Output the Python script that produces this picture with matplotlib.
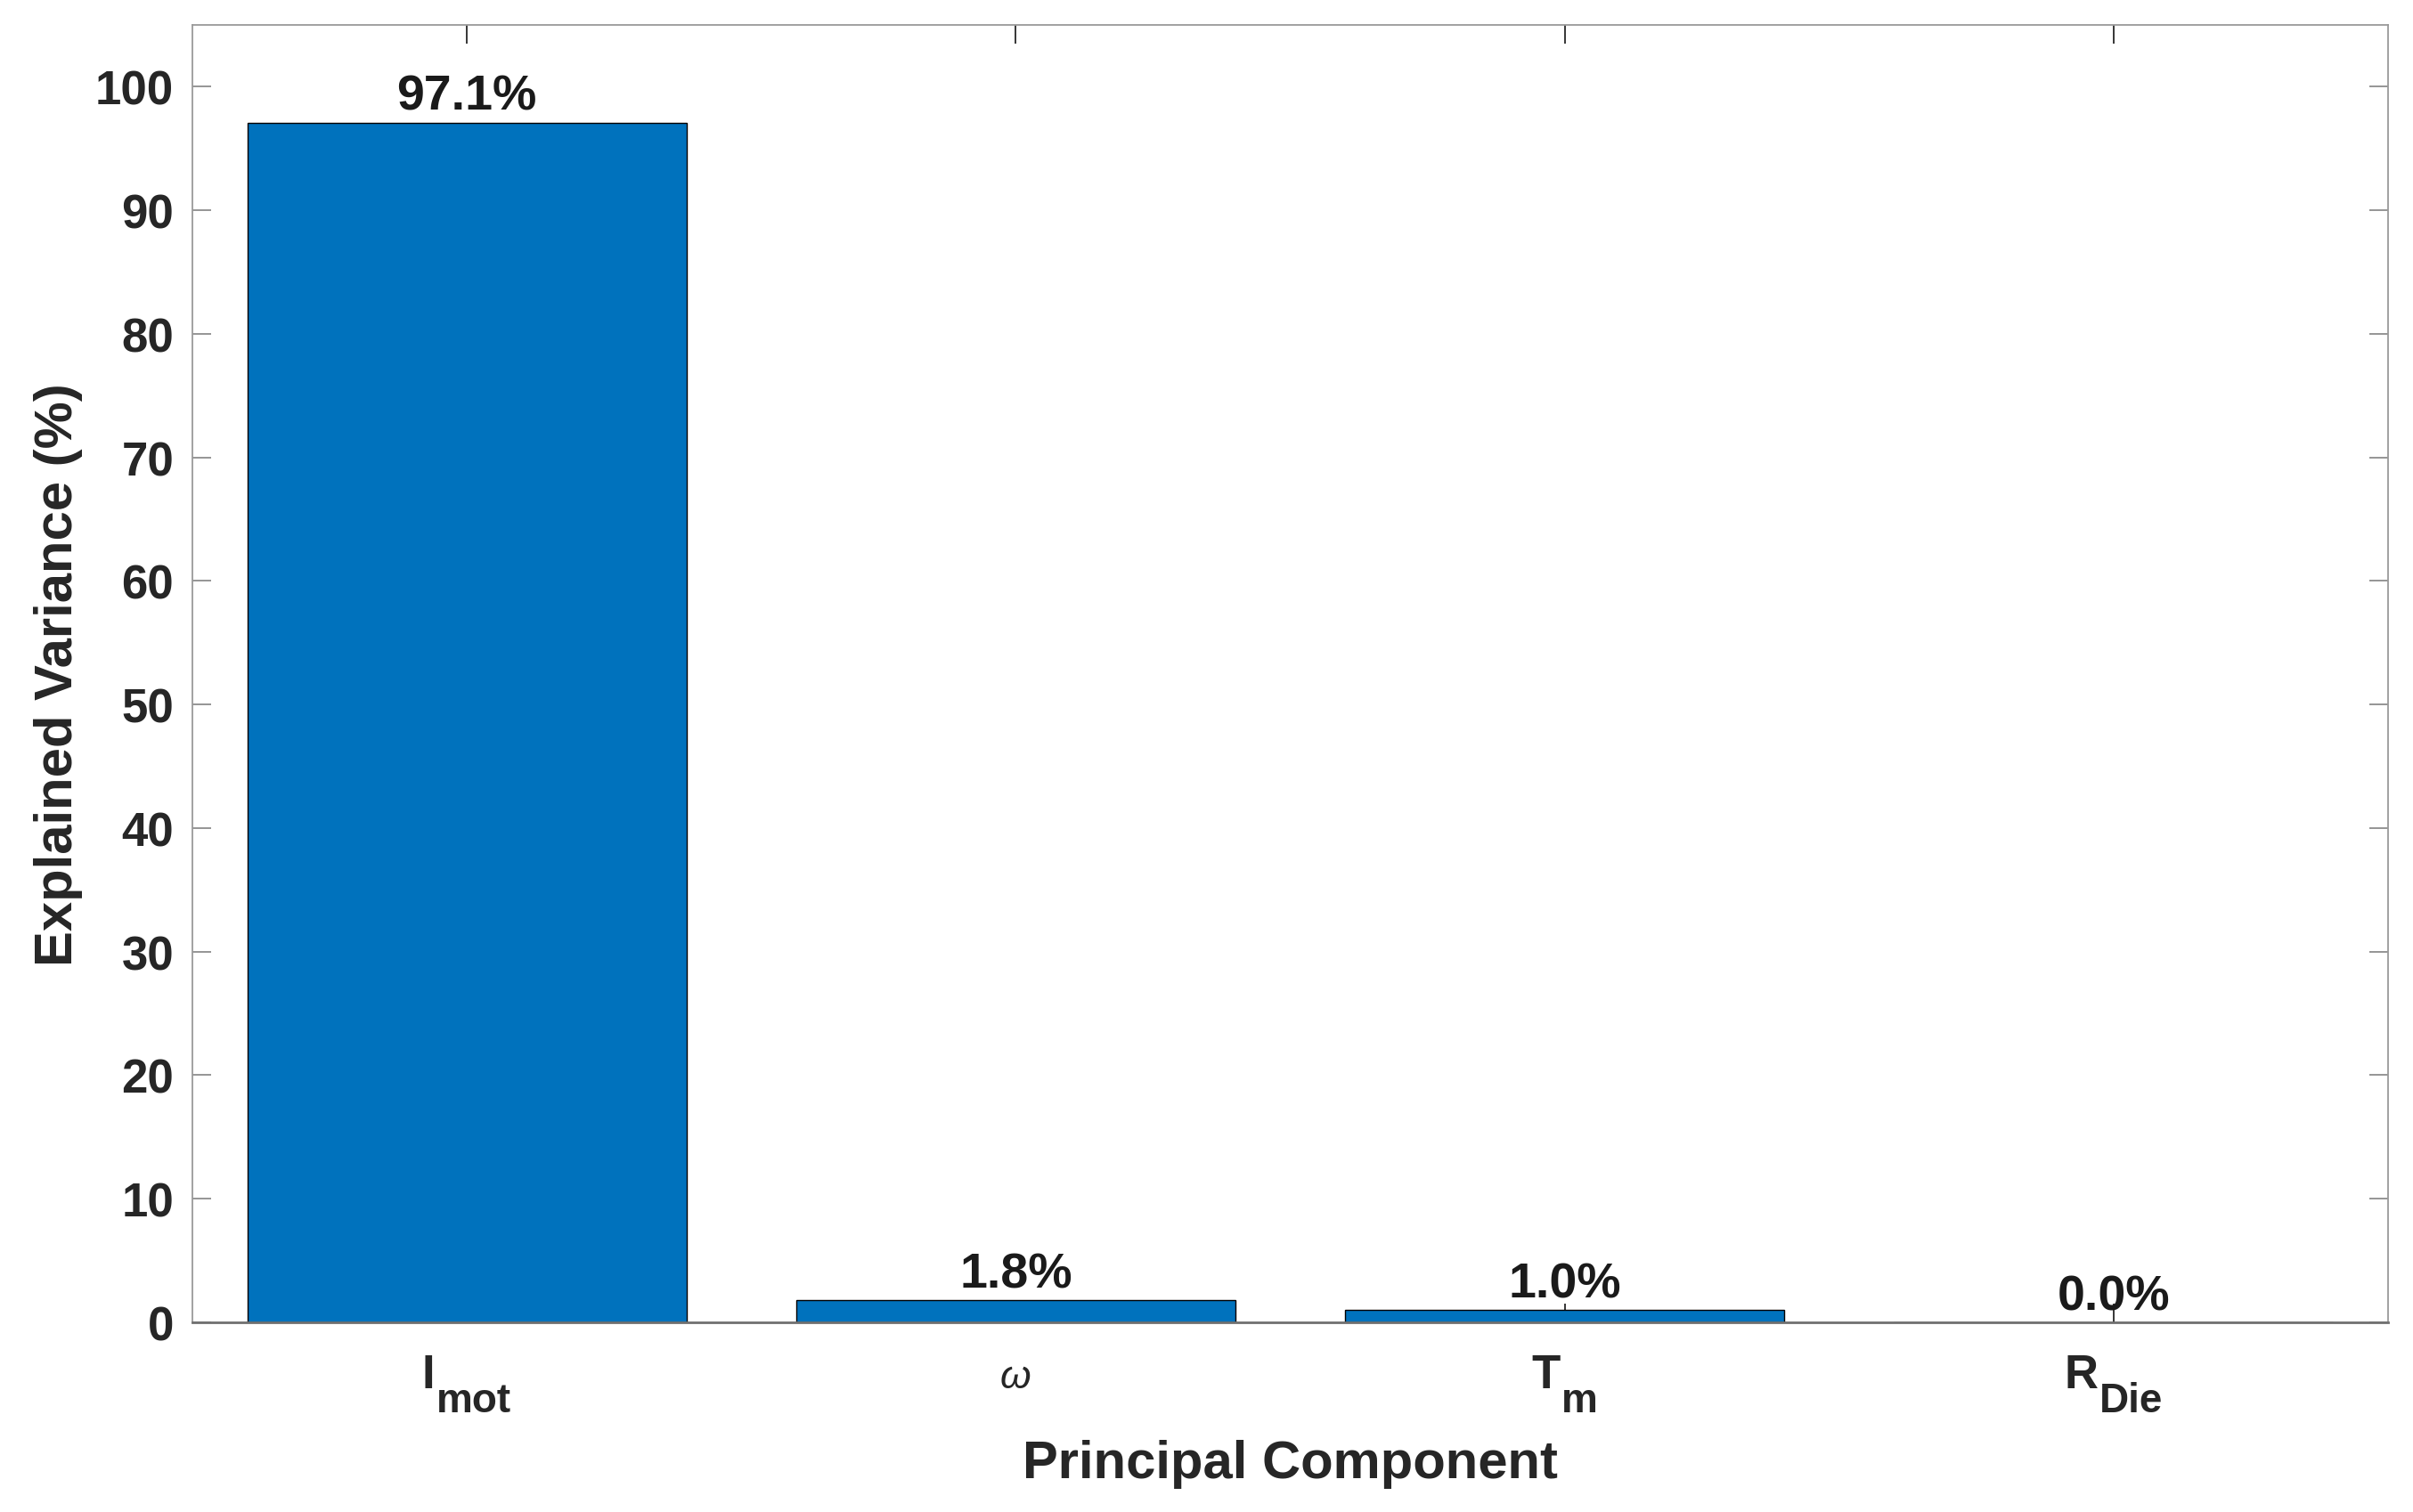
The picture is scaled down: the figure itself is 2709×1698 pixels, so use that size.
import matplotlib
matplotlib.use("Agg")
import matplotlib.pyplot as plt

# explained variance per principal component (%)
tick_main = ["I", "\u03c9", "T", "R"]
tick_sub = ["mot", "", "m", "Die"]
explained = [97.1, 1.8, 1.0, 0.0]
y_ticks = [0, 10, 20, 30, 40, 50, 60, 70, 80, 90, 100]

plt.rcParams["font.family"] = ["Liberation Sans", "DejaVu Sans"]
plt.rcParams["font.weight"] = "bold"

DPI = 100
fig = plt.figure(figsize=(27.09, 16.99), dpi=DPI)
ax = fig.add_axes([0.0797, 0.1254, 0.91, 0.8576])

x = list(range(1, len(explained) + 1))
bars = ax.bar(x, explained, width=0.8, color="#0072BD", edgecolor="black", linewidth=1.0, zorder=2)
ax.bar_label(bars, labels=[f"{v:.1f}%" for v in explained], padding=2,
             fontsize=40, fontweight="bold", color="#1a1a1a")

ax.set_xlim(0.5, 4.5)
ax.set_ylim(0, 105)
ax.set_yticks(y_ticks)
ax.set_xticks(x)

ax.tick_params(axis="both", direction="in", length=15, width=1.3,
               labelsize=38, colors="#262626", top=True, right=True)
ax.tick_params(axis="y", pad=15, colors="#8c8c8c", labelcolor="#262626")
ax.tick_params(axis="x", labelbottom=False)
for lab in ax.get_yticklabels():
    lab.set_fontweight("bold")
for side in ["left", "right", "top"]:
    ax.spines[side].set_color("#9a9a9a")
    ax.spines[side].set_linewidth(1.3)
ax.spines["bottom"].set_color("#707070")
ax.spines["bottom"].set_linewidth(2.0)

# x tick labels with MATLAB-like deep subscripts
renderer = fig.canvas.get_renderer()
trans = ax.get_xaxis_transform()
px2pt = 72.0 / DPI
for xi, main, sub in zip(x, tick_main, tick_sub):
    greek = sub == ""
    t1 = ax.annotate(main, xy=(xi, 0), xycoords=trans, xytext=(0, -52.5),
                     textcoords="offset points", ha="left", va="baseline",
                     fontsize=32 if greek else 38,
                     fontweight="normal" if greek else "bold",
                     fontstyle="italic" if greek else "normal",
                     color="#262626", annotation_clip=False)
    w1 = t1.get_window_extent(renderer).width * px2pt
    if greek:
        t1.xyann = (-w1 / 2, -52.5)
        continue
    t2 = ax.annotate(sub, xy=(xi, 0), xycoords=trans, xytext=(0, -72),
                     textcoords="offset points", ha="left", va="baseline",
                     fontsize=33, fontweight="bold", color="#262626",
                     annotation_clip=False)
    w2 = t2.get_window_extent(renderer).width * px2pt
    gap = 1.0
    total = w1 + gap + w2
    t1.xyann = (-total / 2, -52.5)
    t2.xyann = (-total / 2 + w1 + gap, -72)

ax.set_xlabel("Principal Component", fontsize=43, fontweight="bold", color="#262626")
ax.xaxis.set_label_coords(0.5, -0.0899)
ax.set_ylabel("Explained Variance (%)", fontsize=43, fontweight="bold", color="#262626", labelpad=10)

fig.savefig("out.png", dpi=DPI, facecolor="white")
